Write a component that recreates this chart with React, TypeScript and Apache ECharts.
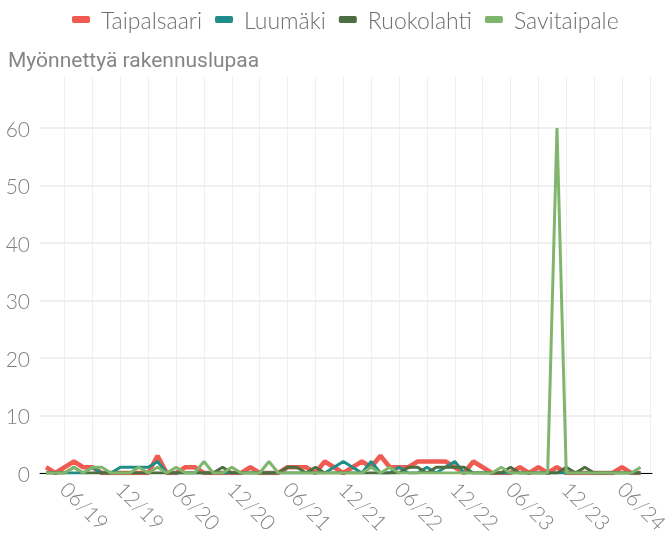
import React, { useEffect, useRef } from "react";
import * as echarts from "echarts";

const months = [
  "04/19","05/19","06/19","07/19","08/19","09/19","10/19","11/19","12/19",
  "01/20","02/20","03/20","04/20","05/20","06/20","07/20","08/20","09/20","10/20","11/20","12/20",
  "01/21","02/21","03/21","04/21","05/21","06/21","07/21","08/21","09/21","10/21","11/21","12/21",
  "01/22","02/22","03/22","04/22","05/22","06/22","07/22","08/22","09/22","10/22","11/22","12/22",
  "01/23","02/23","03/23","04/23","05/23","06/23","07/23","08/23","09/23","10/23","11/23","12/23",
  "01/24","02/24","03/24","04/24","05/24","06/24","07/24","08/24",
];

const seriesNames = ["Taipalsaari", "Luumäki", "Ruokolahti", "Savitaipale"];
const seriesColors = ["#ef5a51", "#1f8d88", "#4b6f40", "#7fb66c"];

// monthly values, 04/19 ... 08/24
const taipalsaari = [
  1,0,1,2,1,1,0,0,0,
  0,0,0,3,0,0,1,1,0,0,0,0,
  0,1,0,0,0,1,1,1,0,2,1,0,
  1,2,1,3,1,1,1,2,2,2,2,1,
  0,2,1,0,0,0,1,0,1,0,1,0,
  0,0,0,0,0,1,0,0,
];
const luumaki = [
  0,0,0,0,0,1,0,0,1,
  1,1,1,2,0,0,0,0,0,0,0,0,
  0,0,0,0,0,0,0,0,0,0,1,2,
  1,0,2,0,0,1,0,0,1,0,1,2,
  0,0,0,0,0,0,0,0,0,0,0,0,
  0,0,0,0,0,0,0,0,
];
const ruokolahti = [
  0,0,0,1,0,0,0,0,0,
  0,0,0,0,0,0,0,0,0,0,1,0,
  0,0,0,0,0,1,1,0,1,0,0,0,
  0,0,0,0,0,0,1,1,0,1,1,1,
  1,0,0,0,0,1,0,0,0,0,0,1,
  0,1,0,0,0,0,0,0,
];
const savitaipale = [
  0,0,0,1,0,1,1,0,0,
  0,1,0,1,0,1,0,0,2,0,0,1,
  0,0,0,2,0,0,0,0,0,0,0,0,
  0,0,1,0,1,0,0,0,0,0,0,0,
  0,0,0,0,1,0,0,0,0,0,60,0,
  0,0,0,0,0,0,0,1,
];

const yTicks = [0, 10, 20, 30, 40, 50, 60];
const title = "Myönnettyä rakennuslupaa";

// x position: months since 06/19
const offset = months.indexOf("06/19");

export default function App() {
  const ref = useRef<HTMLDivElement>(null);
  useEffect(() => {
    if (!ref.current) return;
    const chart = echarts.init(ref.current, null, { renderer: "svg" });
    const all = [taipalsaari, luumaki, ruokolahti, savitaipale];
    const font = "Lato";
    chart.setOption({
      animation: false,
      textStyle: { fontFamily: font },
      title: {
        text: title,
        left: 3,
        top: 44,
        textStyle: {
          fontFamily: "Roboto",
          fontSize: 21,
          fontWeight: "normal",
          color: "#858585",
        },
      },
      legend: {
        top: 3,
        left: 67,
        itemWidth: 18,
        itemHeight: 7,
        itemGap: 13,
        icon: "roundRect",
        textStyle: {
          fontFamily: font,
          fontSize: 23,
          fontWeight: 300,
          color: "#6e6e6e",
          padding: [0, 0, 0, 6],
        },
        data: seriesNames,
      },
      grid: {
        left: 40,
        right: 14,
        top: 77,
        bottom: 65,
        containLabel: false,
        outerBoundsMode: "none",
      },
      xAxis: {
        type: "value",
        min: -2.65,
        max: 63.23,
        minInterval: 3,
        maxInterval: 3,
        splitNumber: 22,
        axisLine: { show: true, onZero: false, lineStyle: { color: "#000", width: 1 } },
        axisTick: { show: false },
        splitLine: {
          show: true,
          showMinLine: false,
          showMaxLine: false,
          lineStyle: { color: "#efefef", width: 1 },
        },
        axisLabel: {
          rotate: -45,
          margin: 12,
          fontFamily: font,
          fontSize: 21,
          fontWeight: 300,
          color: "#808080",
          showMinLabel: false,
          showMaxLabel: false,
          hideOverlap: false,
          formatter: (v: number) => {
            const r = Math.round(v);
            if (Math.abs(v - r) > 1e-6 || r % 6 !== 0) return "";
            const lbl = months[r + offset];
            return lbl ?? "";
          },
        },
      },
      yAxis: {
        type: "value",
        min: yTicks[0],
        max: 68.9,
        interval: 10,
        axisLine: { show: false },
        axisTick: { show: false },
        splitLine: {
          show: true,
          showMaxLine: false,
          lineStyle: { color: "#efefef", width: 2 },
        },
        axisLabel: {
          fontFamily: font,
          fontSize: 21,
          fontWeight: 300,
          color: "#808080",
          margin: 10,
          showMaxLabel: false,
          formatter: (v: number) => (yTicks.includes(v) ? String(v) : ""),
        },
      },
      series: seriesNames.map((name, si) => ({
        name,
        type: "line",
        symbol: "none",
        color: seriesColors[si],
        lineStyle: { width: si === 0 ? 4.5 : 3, color: seriesColors[si] },
        data: all[si].map((v, i) => [i - offset, v]),
        z: 2 + si,
      })),
    });
    return () => chart.dispose();
  }, []);
  return (
    <div
      ref={ref}
      style={{ position: "fixed", left: 0, top: 0, width: 666, height: 538 }}
    />
  );
}
